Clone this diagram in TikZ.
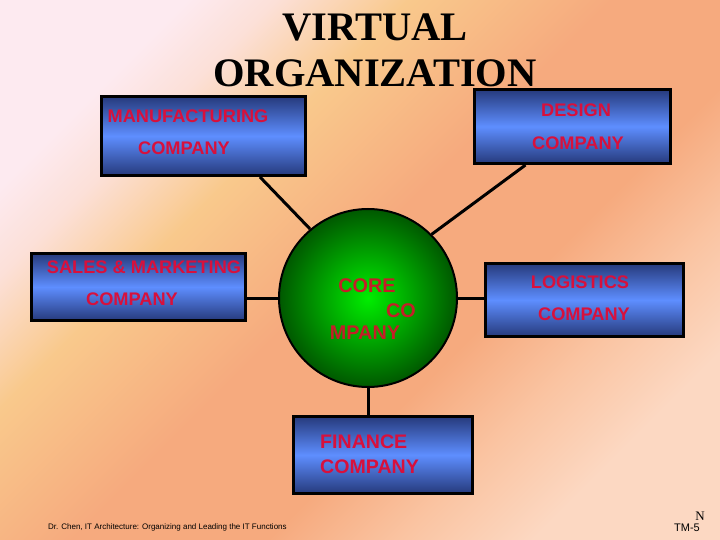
\documentclass[tikz,border=0pt]{standalone}
\usepackage{fontspec}
\setmainfont{Liberation Serif}
\newfontfamily\arialf{Liberation Sans}
\usetikzlibrary{calc}
\definecolor{bgOne}{HTML}{FDEAF0}
\definecolor{bgOneB}{HTML}{FCE0D8}
\definecolor{bgTwo}{HTML}{F9C98C}
\definecolor{bgThree}{HTML}{F6AA7E}
\definecolor{bgFour}{HTML}{FAC4A2}
\definecolor{bgFive}{HTML}{FCD8C2}
\pgfdeclarehorizontalshading{bgsh}{100bp}{color(0bp)=(bgOne); color(25bp)=(bgOne); color(30bp)=(bgOneB); color(37.5bp)=(bgTwo); color(49bp)=(bgThree); color(60bp)=(bgThree); color(67.5bp)=(bgFour); color(75bp)=(bgFive); color(100bp)=(bgFive)}
\definecolor{boxDark}{HTML}{263A7C}
\definecolor{boxLight}{HTML}{5E8EFF}
\definecolor{txtRed}{HTML}{D8103C}
\definecolor{coreRed}{HTML}{C41E28}
\definecolor{gIn}{HTML}{00EE00}
\definecolor{gOut}{HTML}{005800}
\tikzset{
  cobox/.style={draw=black, line width=3pt, rectangle, inner sep=0pt,
    top color=boxDark, bottom color=boxDark, middle color=boxLight},
  boxtxt/.style={font=\arialf\bfseries\fontsize{18.2}{20}\selectfont, text=txtRed, anchor=base, inner sep=0pt},
  coretxt/.style={font=\arialf\bfseries\fontsize{19.8}{22}\selectfont, text=coreRed, anchor=base, inner sep=0pt},
  fintxt/.style={font=\arialf\bfseries\fontsize{19.6}{23}\selectfont, text=txtRed, anchor=base west, inner sep=0pt},
  titletxt/.style={font=\bfseries\fontsize{40.5}{44}\selectfont, text=black, anchor=base, inner sep=0pt},
  conn/.style={draw=black, line width=3pt}
}
\begin{document}
\begin{tikzpicture}[x=1pt,y=-1pt]
\useasboundingbox (0,0) rectangle (720,540);
\shade[shading=bgsh, shading angle=-45] (0,0) rectangle (720,540);

% title
\node[titletxt] (t1) at (375,41) {VIRTUAL};
\node[titletxt] (t2) at (375,87) {ORGANIZATION};

% company boxes
\node[cobox, minimum width=204pt, minimum height=79pt] (mfg) at (203.5,136) {};
\node[cobox, minimum width=196pt, minimum height=74pt] (design) at (572.5,126.5) {};
\node[cobox, minimum width=214pt, minimum height=67pt] (sales) at (138.5,287) {};
\node[cobox, minimum width=198pt, minimum height=73pt] (logi) at (584.5,300) {};
\node[cobox, minimum width=179pt, minimum height=77pt] (fin) at (383,455) {};

% core circle
\node[circle, draw=black, line width=2pt, minimum size=178pt, inner sep=0pt,
      inner color=gIn, outer color=gOut] (core) at (368,298) {};

% connectors
\draw[conn] ($(mfg.south)+(56.5,0)$) -- (core.130);
\draw[conn] ($(design.south)+(-47,0)$) -- (core.45);
\draw[conn] (core.west) -- (core.west -| sales.east);
\draw[conn] (core.east) -- (core.east -| logi.west);
\draw[conn] (core.south) -- (core.south |- fin.north);

% box texts
\node[boxtxt] (mfgA) at (188,123) {MANUFACTURING};
\node[boxtxt] (mfgB) at (184,155) {COMPANY};
\node[boxtxt] (desA) at (576,117) {DESIGN};
\node[boxtxt] (desB) at (578,150) {COMPANY};
\node[boxtxt] (salA) at (144,273) {SALES \& MARKETING};
\node[boxtxt] (salB) at (132,305) {COMPANY};
\node[boxtxt] (logA) at (580,288) {LOGISTICS};
\node[boxtxt] (logB) at (584,320) {COMPANY};

% core text
\node[coretxt] (coA) at (367,292) {CORE};
\node[coretxt] (coB) at (401,317) {CO};
\node[coretxt] (coC) at (365,339) {MPANY};

% finance text
\node[fintxt] (finA) at (320,448) {FINANCE};
\node[fintxt] (finB) at (320,473) {COMPANY};

% footer
\node[anchor=base west, inner sep=0pt, font=\arialf\fontsize{8}{9}\selectfont] (foot) at (48,529)
  {Dr. Chen, IT Architecture: Organizing and Leading the IT Functions};
\node[anchor=base, inner sep=0pt, font=\fontsize{13}{14}\selectfont] (nn) at (700,520) {N};
\node[anchor=base, inner sep=0pt, font=\arialf\fontsize{11}{12}\selectfont] (tm) at (687,531) {TM-5};
\end{tikzpicture}
\end{document}
